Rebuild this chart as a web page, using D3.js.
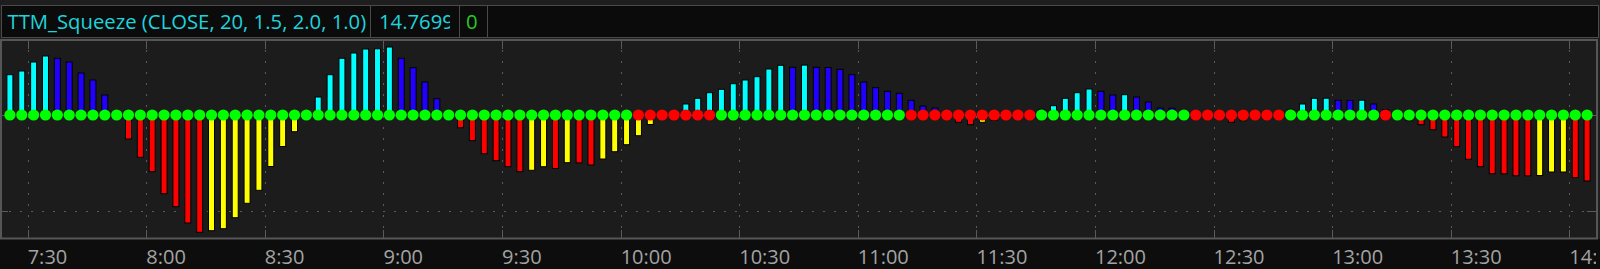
<!DOCTYPE html>
<html>
<head>
<meta charset="utf-8">
<script src="https://cdn.jsdelivr.net/npm/d3@7"></script>
<style>
  body { margin: 0; background: #1f1f1f; }
  svg { display: block; font-family: "Open Sans", sans-serif; }
</style>
</head>
<body>
<div id="squeeze"></div>
<script>
// TTM_Squeeze histogram, 3 minute bars starting 7:24
const barStart = "07:24",
    barMinutes = 3;

// momentum histogram (one value per bar)
const hist = [
    40.3, 44, 53, 59, 56.7, 53, 42, 35, 20, 3,
    -24, -42.3, -56.7, -78.7, -91.7, -108, -117.3, -115.7, -113.7, -102.7,
    -88.3, -75.3, -51.5, -31.5, -16.7, 1.5, 18, 40.3, 56.7, 62,
    66, 66.2, 68, 56.7, 47.3, 33, 16.3, 2, -12.7, -25.7,
    -38.7, -45.7, -51.7, -56.7, -55.3, -51.7, -53.5, -47.7, -47.9, -50,
    -44, -36.7, -29.7, -20.7, -9.5, -2, 3, 11, 16.7, 22.3,
    25.7, 31.3, 35, 38.3, 46, 49.7, 47.7, 49.9, 47.7, 47.5,
    45.7, 40.3, 33, 27.3, 23.7, 21.7, 14.7, 9, 7, 2,
    -7.3, -9.7, -7.3, -5.5, -3, -1, 1.5, 5.7, 9.3, 16.7,
    22.3, 26, 23.7, 20, 20.3, 18, 13, 7, 6.8, 2,
    -1, -2.5, -4, -7.3, -5.7, -3, -1.5, 1, 5.7, 11,
    16.7, 16.8, 14.7, 14.6, 14.8, 11, 5.5, -1.5, -5.7, -9.7,
    -14.7, -22, -31.7, -44.3, -51.7, -58.7, -58.8, -60.7, -60.8, -60.5,
    -57, -57, -62.7, -66
];

// C = up & rising, B = up & falling, R = down & falling, Y = down & rising
const histState = ("CCCC BBBBBB RRRRRRR YYYYYYYY CCCCCCCC BBBBB RRRRRR YY R Y RR YYYYYY " +
    "CCCCCCCCCC B C BBBBBBBBBBBB RR YYYY CCCCCC BB C BBBBB RRRR YYY CCCCC BB C BB " +
    "RRRRRRRRRRRR YYY RR").replace(/ /g, "").split("");

// squeeze dots: G = no squeeze, R = squeeze on
const squeezeState = ("G".repeat(53) + "R".repeat(7) + "G".repeat(16) + "R".repeat(11) +
    "G".repeat(13) + "R".repeat(8) + "G".repeat(8) + "R" + "G".repeat(17)).split("");

const headerLabels = ["TTM_Squeeze (CLOSE, 20, 1.5, 2.0, 1.0)", "14.7699", "0"];
const gridValues = [0, -96];

const histColors = { C: "#00ffff", B: "#2200ff", R: "#ff0000", Y: "#ffff00" };
const dotColors = { G: "#00ff00", R: "#ff0000" };

const width = 1600,
    height = 269;

const parseTime = d3.timeParse("%H:%M");
const t0 = parseTime(barStart);
const bars = hist.map((v, i) => ({
    value: v,
    state: histState[i],
    squeeze: squeezeState[i],
    time: d3.timeSecond.offset(t0, (i * barMinutes + barMinutes / 2) * 60)
}));

const plot = { left: 2, right: 1597, top: 41, bottom: 238.5 };

const x = d3.scaleTime()
    .domain([d3.timeSecond.offset(t0, -30), d3.timeSecond.offset(t0, 403 * 60)])
    .range([plot.left, plot.right]);

const y = d3.scaleLinear()
    .domain([-123.5, 74])
    .range([plot.bottom, plot.top]);

const svg = d3.select("#squeeze")
    .append("svg")
    .attr("width", width)
    .attr("height", height)
    .attr("viewBox", [0, 0, width, height]);

const defs = svg.append("defs");
defs.append("clipPath").attr("id", "axis-clip")
    .append("rect").attr("x", 0).attr("y", 239).attr("width", 1596).attr("height", 30);
// the value box cuts its number short, as the platform does
defs.append("clipPath").attr("id", "value-clip")
    .append("rect").attr("x", 371).attr("y", 5).attr("width", 79).attr("height", 32);

// header boxes
svg.append("rect").attr("x", 0).attr("y", 0).attr("width", width).attr("height", 40).attr("fill", "#1e1e1e");
const boxes = [[1, 370], [370, 459], [459, 487], [487, 1598]];
svg.append("g")
    .selectAll("rect")
    .data(boxes)
    .join("rect")
    .attr("x", d => d[0] + 0.5)
    .attr("y", 5.5)
    .attr("width", d => d[1] - d[0])
    .attr("height", 32)
    .attr("fill", "#0b0b0b")
    .attr("stroke", "#4a4a4a");

svg.append("text")
    .attr("x", 7.5).attr("y", 29)
    .attr("font-size", 20.3).attr("fill", "#1fd3dc")
    .text(headerLabels[0]);
svg.append("text")
    .attr("x", 379).attr("y", 29)
    .attr("clip-path", "url(#value-clip)")
    .attr("font-size", 20.3).attr("fill", "#1fd3dc")
    .text(headerLabels[1]);
svg.append("text")
    .attr("x", 466).attr("y", 29)
    .attr("font-size", 20.3).attr("fill", "#27c927")
    .text(headerLabels[2]);

// plot area + axis band
svg.append("rect").attr("x", 0).attr("y", 239).attr("width", width).attr("height", 30).attr("fill", "#0d0d0d");
svg.append("rect")
    .attr("x", 1).attr("y", 40)
    .attr("width", 1596).attr("height", 198.5)
    .attr("fill", "#1c1c1c")
    .attr("stroke", "#565656")
    .attr("stroke-width", 2);

const ticks = x.ticks(d3.timeMinute.every(30));
const grid = svg.append("g").attr("stroke", "#5a5a5a");

grid.selectAll(".vdot")
    .data(ticks)
    .join("line")
    .attr("x1", d => Math.round(x(d)) + 0.5).attr("x2", d => Math.round(x(d)) + 0.5)
    .attr("y1", 50).attr("y2", 230)
    .attr("stroke-dasharray", "2,9");
grid.selectAll(".vtop")
    .data(ticks)
    .join("line")
    .attr("x1", d => Math.round(x(d)) + 0.5).attr("x2", d => Math.round(x(d)) + 0.5)
    .attr("y1", plot.top).attr("y2", 49);
grid.selectAll(".vbot")
    .data(ticks)
    .join("line")
    .attr("x1", d => Math.round(x(d)) + 0.5).attr("x2", d => Math.round(x(d)) + 0.5)
    .attr("y1", 230).attr("y2", plot.bottom);

grid.selectAll(".hdot")
    .data(gridValues)
    .join("line")
    .attr("x1", 9).attr("x2", 1587)
    .attr("y1", d => Math.round(y(d)) + 0.5).attr("y2", d => Math.round(y(d)) + 0.5)
    .attr("stroke-dasharray", "2,9");
grid.selectAll(".hright")
    .data(gridValues)
    .join("line")
    .attr("x1", 1587).attr("x2", plot.right)
    .attr("y1", d => Math.round(y(d)) + 0.5).attr("y2", d => Math.round(y(d)) + 0.5);
grid.selectAll(".hleft")
    .data(gridValues)
    .join("line")
    .attr("x1", plot.left).attr("x2", 8)
    .attr("y1", d => Math.round(y(d)) + 0.5).attr("y2", d => Math.round(y(d)) + 0.5);

// time labels
svg.append("g")
    .attr("clip-path", "url(#axis-clip)")
    .selectAll("text")
    .data(ticks)
    .join("text")
    .attr("x", d => x(d))
    .attr("y", 263.5)
    .attr("font-size", 20)
    .attr("fill", "#a3a3a3")
    .text(d3.timeFormat("%-H:%M"));

// histogram
const barW = 6;
svg.append("g")
    .selectAll("rect")
    .data(bars)
    .join("rect")
    .attr("x", d => x(d.time) - barW / 2)
    .attr("y", d => Math.min(y(d.value), y(0)))
    .attr("width", barW)
    .attr("height", d => Math.abs(y(d.value) - y(0)))
    .attr("fill", d => histColors[d.state])
    .attr("stroke", "#000")
    .attr("stroke-width", 1);

// squeeze dots on the zero line
svg.append("g")
    .selectAll("circle")
    .data(bars)
    .join("circle")
    .attr("cx", d => x(d.time))
    .attr("cy", y(0))
    .attr("r", 5.6)
    .attr("fill", d => dotColors[d.squeeze]);
</script>
</body>
</html>
